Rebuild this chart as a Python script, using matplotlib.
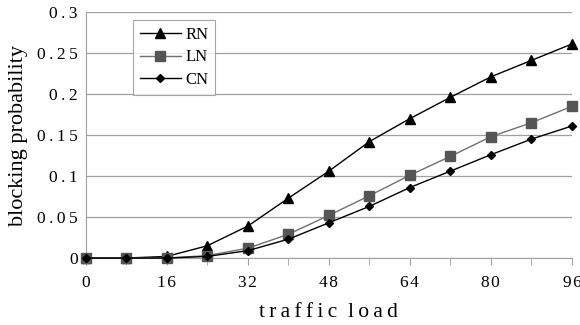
import numpy as np
import matplotlib.pyplot as plt

load = [0, 8, 16, 24, 32, 40, 48, 56, 64, 72, 80, 88, 96]
rn = [0.0, 0.0, 0.002, 0.015, 0.039, 0.073, 0.106, 0.142, 0.170, 0.196, 0.221, 0.241, 0.261]
ln = [0.0, 0.0, 0.0, 0.003, 0.012, 0.029, 0.052, 0.076, 0.101, 0.124, 0.148, 0.165, 0.185]
cn = [0.0, 0.0, 0.0, 0.002, 0.009, 0.023, 0.043, 0.063, 0.086, 0.106, 0.126, 0.145, 0.161]
yticks = [0, 0.05, 0.1, 0.15, 0.2, 0.25, 0.3]
ytick_labels = ['0', '0.05', '0.1', '0.15', '0.2', '0.25', '0.3']
xticks = [0, 16, 32, 48, 64, 80, 96]

serif = ['Liberation Serif', 'DejaVu Serif']
plt.rcParams['font.family'] = serif


def spaced(s, sep='\u2009'):
    # wide letter spacing like the original
    return sep.join(s)


fig = plt.figure(figsize=(5.8, 3.25), dpi=100)
ax = fig.add_axes([0.148, 0.206, 0.838, 0.757])

ax.plot(load, rn, color='black', lw=1, marker='^', ms=7, label='RN', clip_on=False, zorder=3)
ax.plot(load, ln, color='#707070', lw=1, marker='s', ms=6.5, mfc='#555555', mec='#555555',
        label='LN', clip_on=False, zorder=3)
ax.plot(load, cn, color='black', lw=1, marker='D', ms=4.5, label='CN', clip_on=False, zorder=3)

ax.set_xlim(0, 96)
ax.set_ylim(0, 0.3)
ax.set_yticks(yticks)
ax.set_yticklabels([spaced(t) for t in ytick_labels], fontsize=12.5)
ax.set_xticks(xticks)
ax.set_xticklabels([spaced(str(t), '\u200a') for t in xticks], fontsize=12.5)
ax.set_xticks(load, minor=True)
ax.tick_params(axis='y', length=0, pad=6)
ax.tick_params(axis='x', which='both', direction='out', length=5, color='#a0a0a0', pad=7)
ax.grid(axis='y', color='#a0a0a0', lw=0.9)
ax.set_axisbelow(True)
for s in ['top', 'right']:
    ax.spines[s].set_visible(False)
for s in ['left', 'bottom']:
    ax.spines[s].set_color('#a0a0a0')

ax.set_ylabel('blocking probability', fontsize=16, labelpad=6)
ax.set_xlabel(spaced('traffic') + '  ' + spaced('load'), fontsize=15.5, labelpad=9)

leg = ax.legend(loc='upper left', bbox_to_anchor=(0.097, 0.967), fontsize=12, frameon=True,
                fancybox=False, edgecolor='#909090', handlelength=2.5, borderpad=0.4,
                labelspacing=0.4, handletextpad=0.25, borderaxespad=0)
leg.get_frame().set_linewidth(0.8)

fig.savefig('out.png', dpi=100)
